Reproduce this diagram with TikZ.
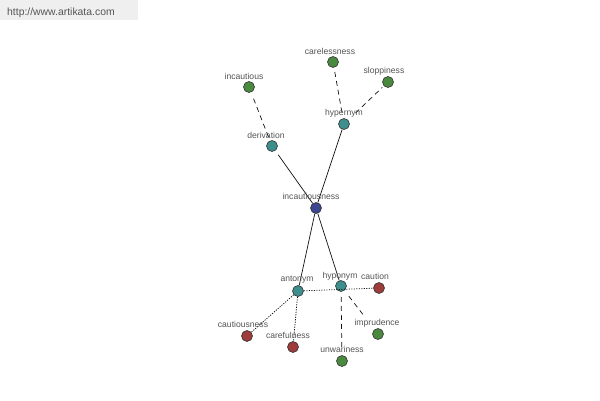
\documentclass[tikz,border=0pt]{standalone}
\usepackage{fontspec}
\setmainfont{Liberation Sans}
\definecolor{tealn}{HTML}{3E8E8E}
\definecolor{greenn}{HTML}{4A8A3E}
\definecolor{redn}{HTML}{9E3B3B}
\definecolor{navyn}{HTML}{3B4890}
\definecolor{lblgray}{HTML}{555555}
\definecolor{bannerbg}{HTML}{EFEFEF}
\definecolor{edgecol}{HTML}{111111}
\begin{document}
\begin{tikzpicture}[x=1pt,y=-1pt,
  dot/.style={circle,draw=black!80,line width=0.6pt,minimum size=11pt,inner sep=0pt},
  lbl/.style={font=\fontsize{8.6}{9}\selectfont,text=lblgray,anchor=base,inner sep=0pt},
  solidedge/.style={draw=edgecol,line width=0.7pt},
  dashededge/.style={draw=edgecol,line width=0.7pt,dash pattern=on 5pt off 4pt},
  dottededge/.style={draw=edgecol,line width=0.75pt,dash pattern=on 1.2pt off 1.3pt}]
\useasboundingbox (0,0) rectangle (600,400);
\fill[white] (0,0) rectangle (600,400);
\fill[bannerbg] (0,0) rectangle (138,20);
\node[font=\fontsize{10.4}{11}\selectfont,text=lblgray,anchor=base west,inner sep=0pt] (url) at (7,15) {http://www.artikata.com};
% nodes
\node[dot,fill=navyn] (inc) at (316,208) {};
\node[dot,fill=tealn] (der) at (272,146) {};
\node[dot,fill=tealn] (hyper) at (344,124) {};
\node[dot,fill=greenn] (incs) at (249,87) {};
\node[dot,fill=greenn] (care) at (333,62) {};
\node[dot,fill=greenn] (slop) at (388,82) {};
\node[dot,fill=tealn] (ant) at (298,291) {};
\node[dot,fill=tealn] (hypo) at (341,286) {};
\node[dot,fill=redn] (caut) at (379,288) {};
\node[dot,fill=redn] (cautn) at (247,336) {};
\node[dot,fill=redn] (caref) at (293,347) {};
\node[dot,fill=greenn] (impr) at (378,334) {};
\node[dot,fill=greenn] (unw) at (342,361) {};
% edges
\draw[solidedge,shorten >=5pt] (inc) -- (der);
\draw[solidedge] (inc) -- (hyper);
\draw[solidedge] (inc) -- (ant);
\draw[solidedge] (inc) -- (hypo);
\draw[dashededge,shorten <=4pt,shorten >=6pt] (der) -- (incs);
\draw[dashededge,shorten <=6pt,shorten >=4pt] (hyper) -- (care);
\draw[dashededge,shorten <=10pt,shorten >=2pt] (hyper) -- (slop);
\draw[dottededge] (ant) -- (caut);
\draw[dottededge] (ant) -- (cautn);
\draw[dottededge] (ant) -- (caref);
\draw[dashededge,shorten <=5pt,shorten >=8pt] (hypo) -- (unw);
\draw[dashededge,shorten <=7pt,shorten >=16pt] (hypo) -- (impr);
% labels
\node[lbl] (l-inc) at (311,199) {incautiousness};
\node[lbl] (l-der) at (266,138) {derivation};
\node[lbl] (l-hyper) at (344,115) {hypernym};
\node[lbl] (l-incs) at (244,79) {incautious};
\node[lbl] (l-care) at (330,54) {carelessness};
\node[lbl] (l-slop) at (384,73) {sloppiness};
\node[lbl] (l-ant) at (297,281) {antonym};
\node[lbl] (l-hypo) at (340,278) {hyponym};
\node[lbl] (l-caut) at (375,279) {caution};
\node[lbl] (l-cautn) at (243,327) {cautiousness};
\node[lbl] (l-caref) at (288,338) {carefulness};
\node[lbl] (l-impr) at (377,325) {imprudence};
\node[lbl] (l-unw) at (342,352) {unwariness};
\end{tikzpicture}
\end{document}
